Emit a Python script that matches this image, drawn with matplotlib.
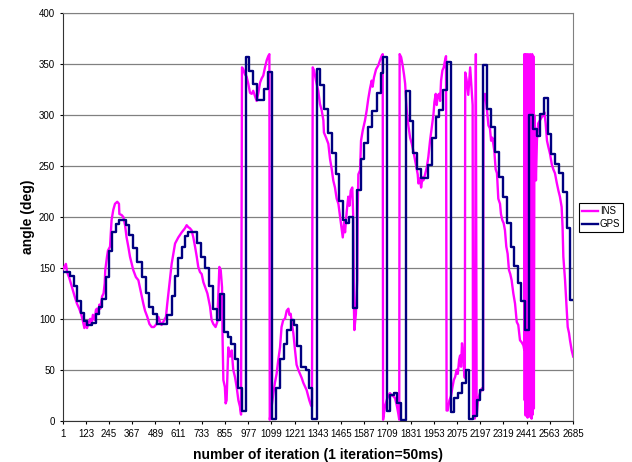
"""
Heading comparison: INS (50 ms integration) vs GPS (1 Hz fixes).
"""
import matplotlib
matplotlib.use("Agg")
import matplotlib.pyplot as plt

plt.rcParams["font.family"] = ["Liberation Sans", "DejaVu Sans"]

# GPS heading: value held from each start iteration until the next fix
gps_iter = [1, 39, 60, 78, 96, 113, 130, 157, 175, 193,
            209, 227, 245, 262, 280, 298, 332, 351, 372, 393,
            416, 438, 456, 474, 495, 551, 574, 592, 609, 627,
            644, 662, 706, 727, 749, 770, 793, 811, 828, 849,
            869, 886, 906, 923, 942, 963, 982, 1000, 1021, 1061,
            1079, 1100, 1123, 1143, 1164, 1182, 1200, 1217, 1232, 1255,
            1282, 1296, 1314, 1336, 1354, 1375, 1398, 1416, 1437, 1456,
            1474, 1491, 1509, 1530, 1550, 1568, 1587, 1608, 1629, 1652,
            1673, 1687, 1708, 1724, 1742, 1758, 1782, 1806, 1827, 1845,
            1863, 1884, 1921, 1942, 1963, 1982, 2003, 2021, 2043, 2061,
            2078, 2099, 2120, 2138, 2160, 2178, 2196, 2213, 2234, 2255,
            2277, 2296, 2318, 2339, 2357, 2376, 2394, 2411, 2432, 2455,
            2473, 2494, 2511, 2532, 2552, 2569, 2590, 2611, 2630, 2651,
            2669]
gps_deg = [146, 142, 132, 118, 106, 98, 94, 96, 105, 112,
           120, 141, 167, 185, 193, 197, 192, 182, 170, 156,
           141, 125, 112, 105, 95, 104, 122, 142, 160, 171,
           181, 185, 175, 161, 150, 132, 110, 99, 124, 87,
           82, 75, 61, 32, 10, 357, 343, 331, 315, 326,
           342, 2, 32, 61, 75, 89, 99, 94, 73, 53,
           50, 32, 2, 345, 330, 306, 283, 263, 242, 216,
           197, 194, 200, 111, 227, 257, 273, 288, 304, 322,
           341, 357, 10, 25, 27, 17, 1, 324, 294, 263,
           247, 238, 251, 278, 298, 305, 325, 352, 9, 22,
           27, 37, 50, 2, 5, 20, 30, 349, 306, 288,
           264, 239, 220, 194, 171, 152, 135, 118, 89, 300,
           286, 280, 301, 317, 282, 262, 252, 243, 225, 189,
           119]

# INS heading samples
ins_iter = [4, 18, 24, 36, 50, 64, 76, 88, 99, 106, 115, 124, 129, 138, 146,
            152, 160, 169, 176, 181, 187, 194, 199, 208, 216, 222, 225, 234,
            239, 250, 258, 267, 276, 288,
            297, 299, 311, 320, 329, 337, 346, 355, 364, 372, 386,
            399, 407, 416, 425, 434, 446, 457, 469, 481, 495, 504, 513, 521,
            530, 544, 551, 560, 574, 592, 609, 627, 644, 653, 662, 670, 679,
            688, 697, 706, 714, 723, 732, 741, 762, 776, 784, 793, 805, 814,
            825, 832, 839, 842, 846, 854, 858, 863, 872, 881, 890, 898, 907,
            916, 925, 933, 939, 944, 951, 960, 968, 977, 986, 995, 1003, 1012,
            1021, 1030, 1039, 1047, 1056, 1065, 1074, 1082, 1088, 1090, 1100,
            1109, 1117, 1126, 1135, 1144, 1152, 1161, 1170, 1179, 1188, 1193,
            1200, 1205, 1214, 1223, 1231, 1240, 1249, 1258, 1267, 1284, 1298,
            1307, 1312, 1316, 1323, 1333, 1345, 1354, 1363, 1372, 1375, 1386,
            1398, 1407, 1416, 1424, 1433, 1442, 1451, 1456, 1463, 1468, 1474,
            1481, 1486, 1495, 1503, 1509, 1516, 1524, 1529, 1533, 1535, 1543,
            1550, 1552, 1556, 1565, 1570, 1579, 1591, 1600, 1608, 1617, 1626,
            1631, 1638, 1649, 1661, 1670, 1678, 1684, 1686, 1696, 1705, 1714,
            1722, 1731, 1740, 1749, 1758, 1766, 1771, 1773, 1781, 1788, 1796,
            1802, 1807, 1812, 1819, 1828, 1837, 1845, 1854, 1863, 1868, 1872,
            1880, 1886, 1893, 1898, 1907, 1916, 1924, 1933, 1942, 1951, 1956,
            1963, 1968, 1973, 1980, 1986, 1991, 1998, 2005, 2012, 2017, 2020,
            2026, 2035, 2043, 2051, 2058, 2065, 2073, 2079, 2086, 2091, 2096,
            2101, 2107, 2112, 2116, 2118, 2125, 2134, 2144, 2150, 2157, 2159,
            2168, 2174, 2178, 2184, 2192, 2200, 2208, 2212, 2214, 2222, 2231,
            2240, 2248, 2254, 2261, 2271, 2278, 2285, 2292, 2301, 2306, 2313,
            2320, 2327, 2334, 2341, 2348, 2355, 2362, 2371, 2380, 2389, 2397,
            2406, 2415, 2424, 2428, 2429, 2431, 2433, 2436, 2438, 2441, 2443,
            2446, 2448, 2451, 2453, 2456, 2459, 2462, 2464, 2467, 2470, 2473,
            2476, 2479, 2482, 2485, 2490, 2495, 2502, 2511, 2520, 2529, 2534,
            2541, 2548, 2555, 2564, 2573, 2581, 2590, 2599, 2608, 2616, 2625,
            2630, 2634, 2643, 2651, 2657, 2664, 2669, 2678, 2686]
ins_deg = [149, 154, 146, 140, 131, 122, 115, 110, 104, 99, 91, 97, 91, 97, 100,
           95, 104, 99, 109, 110, 105, 114, 110, 122, 125, 135, 148, 161,
           167, 171, 197, 207, 213, 215,
           213, 203, 202, 200, 192, 180, 171, 161, 154, 148, 141,
           138, 131, 123, 115, 108, 102, 95, 92, 92, 95, 102, 97, 94,
           97, 102, 115, 130, 154, 174, 180, 185, 189, 192, 190, 189, 187,
           180, 171, 161, 151, 146, 144, 136, 125, 112, 99, 95, 92, 97,
           151, 148, 131, 79, 40, 33, 17, 20, 72, 63, 69, 50, 43,
           33, 20, 14, 6, 347, 345, 340, 338, 331, 322, 321, 324, 319,
           314, 322, 332, 336, 339, 347, 354, 358, 360, 1, 14,
           27, 37, 46, 60, 72, 92, 99, 100, 108, 110, 104,
           105, 97, 86, 69, 55, 50, 46, 42, 37, 30, 20,
           15, 14, 347, 344, 334, 324, 311, 305, 295, 283, 278,
           272, 257, 247, 236, 229, 218, 213, 206, 197, 189, 180,
           195, 185, 206, 220, 211, 226, 229, 200, 108, 89, 105,
           138, 203, 242, 246, 275, 285, 295, 305, 316, 326, 334,
           328, 337, 345, 349, 354, 358, 360, 1, 14, 20, 25,
           27, 25, 24, 22, 15, 7, 1, 360, 357, 350, 340,
           331, 314, 301, 290, 278, 272, 265, 256, 247, 242, 233,
           238, 229, 239, 236, 242, 249, 259, 275, 288, 301, 313,
           321, 310, 319, 321, 314, 334, 344, 347, 354, 358, 10,
           10, 20, 24, 33, 40, 43, 50, 46, 60, 64, 53,
           76, 66, 48, 42, 342, 335, 320, 347, 330, 310, 5,
           2, 360, 5, 18, 25, 30, 32, 30, 318, 321, 308,
           290, 287, 275, 278, 265, 247, 243, 218, 213, 203, 197,
           194, 187, 171, 164, 148, 144, 138, 125, 115, 97, 94,
           79, 77, 74, 70, 360, 20, 355, 5, 360, 10, 350,
           3, 360, 15, 358, 4, 360, 8, 355, 2, 360, 6,
           358, 12, 300, 285, 236, 275, 292, 295, 298, 300, 303,
           292, 275, 269, 262, 252, 247, 243, 234, 226, 220, 210,
           190, 161, 138, 112, 92, 86, 79, 69, 63]

assert len(gps_iter) == len(gps_deg)
assert len(ins_iter) == len(ins_deg)

x_end = 2686
x_ticks = list(range(1, x_end + 1, 122))

fig, ax = plt.subplots(figsize=(6.32, 4.62), dpi=100)
fig.subplots_adjust(left=0.0992, right=0.907, bottom=0.0894, top=0.971)

ax.plot(ins_iter, ins_deg, color="#FF00FF", lw=1.7, label="INS", zorder=3)
ax.plot(gps_iter + [x_end], gps_deg + [gps_deg[-1]], drawstyle="steps-post",
        color="#000080", lw=1.7, label="GPS", zorder=4)

ax.set_xlim(1, x_end)
ax.set_ylim(0, 400)
ax.set_yticks(range(0, 401, 50))
ax.set_xticks(x_ticks)
ax.set_xticklabels([str(t) for t in x_ticks])
ax.tick_params(axis="both", labelsize=7, length=2.5, width=0.8, colors="#000000")
ax.tick_params(axis="y", pad=3)
ax.yaxis.grid(True, color="#808080", lw=0.9)
ax.set_axisbelow(True)

for side in ("top", "right"):
    ax.spines[side].set_color("#808080")
for side in ("left", "bottom"):
    ax.spines[side].set_color("#333333")

ax.set_xlabel("number of iteration (1 iteration=50ms)", fontsize=10, fontweight="bold")
ax.set_ylabel("angle (deg)", fontsize=10, fontweight="bold")
ax.xaxis.set_label_coords(0.5, -0.066)
ax.yaxis.set_label_coords(-0.054, 0.5)

leg = ax.legend(loc="upper left", bbox_to_anchor=(1.012, 0.534), fontsize=7,
                fancybox=False, edgecolor="#000000", framealpha=1,
                handlelength=1.6, handletextpad=0.2, labelspacing=0.3,
                borderpad=0.3, borderaxespad=0)
leg.get_frame().set_linewidth(0.8)

fig.savefig("out.png", dpi=100)
